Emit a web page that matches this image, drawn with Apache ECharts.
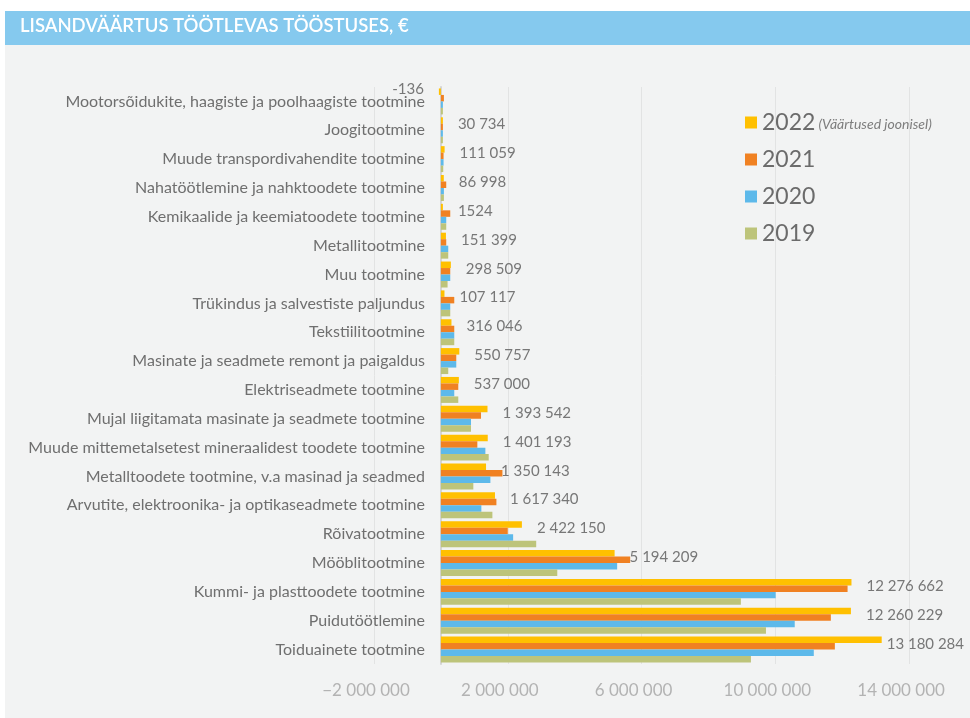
<!DOCTYPE html>
<html>
<head>
<meta charset="utf-8">
<title>Lisandväärtus töötlevas tööstuses</title>
<script src="https://cdn.jsdelivr.net/npm/echarts@6/dist/echarts.min.js"></script>
<style>
  html, body { margin: 0; padding: 0; background: #fff; }
  #chart { width: 970px; height: 718px; }
</style>
</head>
<body>
<div id="chart"></div>
<script>
// tegevusalad, ülevalt alla
var categories = [
  'Mootorsõidukite, haagiste ja poolhaagiste tootmine',
  'Joogitootmine',
  'Muude transpordivahendite tootmine',
  'Nahatöötlemine ja nahktoodete tootmine',
  'Kemikaalide ja keemiatoodete tootmine',
  'Metallitootmine',
  'Muu tootmine',
  'Trükindus ja salvestiste paljundus',
  'Tekstiilitootmine',
  'Masinate ja seadmete remont ja paigaldus',
  'Elektriseadmete tootmine',
  'Mujal liigitamata masinate ja seadmete tootmine',
  'Muude mittemetalsetest mineraalidest toodete tootmine',
  'Metalltoodete tootmine, v.a masinad ja seadmed',
  'Arvutite, elektroonika- ja optikaseadmete tootmine',
  'Rõivatootmine',
  'Mööblitootmine',
  'Kummi- ja plasttoodete tootmine',
  'Puidutöötlemine',
  'Toiduainete tootmine'
];

var years = ['2022', '2021', '2020', '2019'];

var v2022 = [-136, 30734, 111059, 86998, 1524, 151399, 298509, 107117, 316046, 550757,
  537000, 1393542, 1401193, 1350143, 1617340, 2422150, 5194209, 12276662, 12260229, 13180284];
var v2021 = [90000, 60000, 80000, 160000, 280000, 160000, 280000, 400000, 400000, 460000,
  520000, 1200000, 1090000, 1840000, 1660000, 2000000, 5660000, 12160000, 11660000, 11780000];
var v2020 = [10000, 50000, 80000, 90000, 160000, 220000, 280000, 280000, 400000, 460000,
  400000, 900000, 1330000, 1480000, 1210000, 2160000, 5270000, 10010000, 10580000, 11150000];
var v2019 = [10000, 60000, 70000, 90000, 160000, 220000, 200000, 280000, 400000, 220000,
  520000, 900000, 1430000, 970000, 1540000, 2850000, 3480000, 8970000, 9720000, 9270000];

var colors = ['#ffc000', '#f08122', '#5db9ea', '#bdc47a'];

var axisTicks = [-2000000, 2000000, 6000000, 10000000, 14000000];

function spaced(v) {
  return String(Math.abs(v)).replace(/\B(?=(\d{3})+(?!\d))/g, ' ');
}

var myChart = echarts.init(document.getElementById('chart'), null, { renderer: 'canvas' });

// 2022 väärtused joonisel, negatiivne silt vasakule
var data2022 = v2022.map(function (v) {
  if (v < 0) {
    return { value: v, label: { position: 'left' } };
  }
  return v;
});

var font = 'Lato, "Open Sans", sans-serif';

var option = {
  backgroundColor: '#ffffff',
  textStyle: { fontFamily: font },
  animation: false,
  color: colors,
  graphic: [
    { type: 'rect', z: -10, shape: { x: 5, y: 45, width: 965, height: 673 }, style: { fill: '#f2f3f3' } },
    { type: 'rect', z: -10, shape: { x: 5, y: 11, width: 965, height: 34 }, style: { fill: '#85c9ee' } },
    {
      type: 'text', left: 20, top: 17, z: 10,
      style: {
        text: 'LISANDVÄÄRTUS TÖÖTLEVAS TÖÖSTUSES, €',
        fill: '#ffffff', font: '600 18.5px ' + font
      }
    }
  ],
  legend: {
    orient: 'vertical',
    left: 740,
    top: 106,
    icon: 'rect',
    itemWidth: 12,
    itemHeight: 12,
    itemGap: 14,
    data: years,
    formatter: function (name) {
      if (name === '2022') return '{a|2022} {b|(Väärtused joonisel)}';
      return '{a|' + name + '}';
    },
    textStyle: {
      rich: {
        a: { fontSize: 23, lineHeight: 26, color: '#6b6b6b', fontFamily: font },
        b: { fontSize: 14, color: '#7d7d7d', fontStyle: 'italic', fontFamily: font, padding: [4, 0, 0, 0] }
      }
    }
  },
  grid: {
    left: 374,
    top: 87,
    width: 602,
    bottom: 54,
    outerBoundsMode: 'none',
    containLabel: false
  },
  xAxis: {
    type: 'value',
    min: -2000000,
    max: 16000000,
    interval: 4000000,
    axisLine: { show: false },
    axisTick: { show: false },
    splitLine: { lineStyle: { color: '#e2e3e3', width: 1 } },
    axisLabel: {
      showMaxLabel: false,
      margin: 18,
      padding: [0, 16, 0, 0],
      color: '#b3b3b3',
      fontSize: 17,
      fontFamily: font,
      formatter: function (v) {
        if (axisTicks.indexOf(v) < 0) return '';
        return (v < 0 ? '\u2212' : '') + spaced(v);
      }
    }
  },
  yAxis: {
    type: 'category',
    inverse: true,
    data: categories,
    axisLine: { onZero: true, lineStyle: { color: '#d4d5d5', width: 2 } },
    axisTick: { show: false },
    axisLabel: { margin: -51, color: '#6f6f6f', fontSize: 16, fontFamily: font }
  },
  // sildid veidi alla, negatiivne üles; ei tohi minna üle parema serva
  labelLayout: function (params) {
    var r = params.labelRect;
    var out = { dy: 4 };
    if (v2022[params.dataIndex] < 0) out.dy = -3;
    if (r.x + r.width > 964) out.dx = 964 - (r.x + r.width);
    return out;
  },
  series: [
    {
      name: '2022', type: 'bar', data: data2022, barGap: '0%', barCategoryGap: '10%', barMinHeight: 2,
      label: {
        show: true, position: 'right', distance: 15, color: '#777', fontSize: 15, fontFamily: font,
        formatter: function (p) {
          var v = p.value;
          if (Math.abs(v) < 10000) return String(v);
          return spaced(v);
        }
      }
    },
    { name: '2021', type: 'bar', data: v2021, barGap: '0%', barCategoryGap: '10%', barMinHeight: 2 },
    { name: '2020', type: 'bar', data: v2020, barGap: '0%', barCategoryGap: '10%', barMinHeight: 2 },
    { name: '2019', type: 'bar', data: v2019, barGap: '0%', barCategoryGap: '10%', barMinHeight: 2 }
  ]
};

myChart.setOption(option);
</script>
</body>
</html>
